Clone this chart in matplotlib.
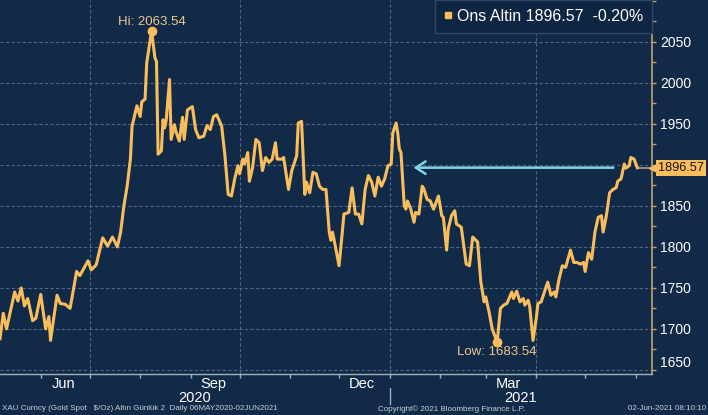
import matplotlib.pyplot as plt
import matplotlib.dates as mdates
import matplotlib.transforms as mtransforms
from matplotlib.lines import Line2D
from matplotlib.ticker import MultipleLocator
import numpy as np
import pandas as pd

# XAU spot (ons altin), daily.
# day = calendar days since 2020-05-07
start = pd.Timestamp('2020-05-07')
day = [0, 2, 4, 9, 11, 13, 15, 17, 20, 22, 25, 28, 30, 31, 35, 37, 40, 43, 47, 49,
       54, 56, 59, 63, 66, 69, 72, 74, 76, 78, 80, 81, 84, 86, 87, 89, 90, 93, 95, 96,
       97, 99, 100, 101, 102, 104, 105, 107, 108, 110, 112, 113, 115, 118, 120, 122, 125, 127, 129, 131,
       133, 136, 138, 140, 142, 144, 146, 147, 149, 150, 152, 153, 155, 157, 159, 161, 163, 165, 167, 169,
       170, 173, 174, 177, 179, 182, 183, 185, 187, 188, 190, 192, 194, 196, 198, 200, 202, 203, 204, 206,
       208, 210, 211, 214, 216, 218, 220, 222, 224, 226, 228, 230, 232, 234, 236, 238, 240, 241, 243, 244,
       245, 246, 248, 249, 250, 252, 254, 255, 257, 259, 260, 262, 264, 266, 269, 271, 272, 274, 275, 277,
       279, 280, 283, 286, 288, 290, 293, 295, 297, 298, 300, 302, 305, 307, 309, 311, 314, 315, 317, 319,
       321, 322, 324, 325, 327, 329, 330, 332, 334, 336, 338, 340, 341, 343, 345, 347, 350, 352, 354, 356,
       358, 359, 361, 363, 365, 367, 369, 370, 372, 374, 376, 378, 379, 381, 383, 384, 386, 387, 389, 391]
price = [1688, 1719, 1700, 1745, 1734, 1750, 1728, 1737, 1710, 1713, 1742, 1700, 1715, 1686, 1741, 1731, 1730, 1725, 1770, 1765,
         1783, 1772, 1778, 1811, 1801, 1812, 1800, 1818, 1850, 1874, 1907, 1947, 1972, 1959, 1977, 1980, 2024, 2063.54, 2031, 2026,
         1913, 1917, 1955, 1945, 1955, 2004, 1931, 1949, 1940, 1929, 1958, 1931, 1967, 1971, 1943, 1933, 1935, 1948, 1943, 1959,
         1961, 1947, 1911, 1864, 1862, 1883, 1899, 1889, 1907, 1901, 1915, 1880, 1897, 1931, 1927, 1893, 1909, 1903, 1907, 1927,
         1907, 1907, 1909, 1870, 1893, 1911, 1951, 1953, 1864, 1879, 1866, 1891, 1889, 1874, 1870, 1870, 1818, 1808, 1818, 1798,
         1777, 1818, 1840, 1842, 1872, 1840, 1840, 1828, 1870, 1887, 1879, 1862, 1885, 1874, 1883, 1899, 1901, 1939, 1951, 1939,
         1919, 1915, 1850, 1846, 1856, 1846, 1830, 1842, 1840, 1874, 1871, 1858, 1856, 1846, 1862, 1838, 1836, 1796, 1822, 1838,
         1844, 1828, 1824, 1779, 1777, 1812, 1806, 1757, 1733, 1739, 1721, 1700, 1683.54, 1725, 1729, 1731, 1745, 1737, 1746, 1733,
         1737, 1729, 1735, 1727, 1686, 1713, 1731, 1733, 1745, 1757, 1741, 1745, 1739, 1761, 1777, 1775, 1796, 1781, 1781, 1779,
         1781, 1770, 1793, 1785, 1818, 1836, 1838, 1818, 1838, 1866, 1870, 1872, 1880, 1883, 1901, 1896, 1899, 1909, 1907, 1896.57]
last_change_pct = -0.20

y_ticks = [1650, 1700, 1750, 1800, 1850, 1900, 1950, 2000, 2050]
quarter_starts = ['2020-07-01', '2020-10-01', '2021-01-01', '2021-04-01']
year_split = pd.Timestamp('2021-01-01')
x_end = pd.Timestamp('2021-06-11')
arrow_from = pd.Timestamp('2021-05-20')
arrow_to = pd.Timestamp('2021-01-14')

BG = '#112a48'
GOLD = '#f9bd5b'
TAN = '#bfa36c'
GRID = '#4e6886'
AXIS = '#a3b2c2'
CYAN = '#7fd6ea'
NOTE = '#eec78d'

plt.rcParams['font.family'] = ['Liberation Sans', 'DejaVu Sans']

dates = start + pd.to_timedelta(day, unit='D')
price = np.array(price)
last = price[-1]

fig = plt.figure(figsize=(7.08, 4.15), dpi=100, facecolor=BG)
ax = fig.add_axes([0, 41 / 415, 652 / 708, 374 / 415], facecolor=BG)

ax.plot(dates, price, color=GOLD, lw=2.2, solid_joinstyle='round', zorder=4)
ax.set_xlim(start, x_end)
ax.set_ylim(1645, 2101)

# grid: dashed, horizontal every 50, vertical at quarter starts
ax.grid(axis='y', which='major', color=GRID, ls=(0, (3, 2)), lw=0.8)
for q in quarter_starts:
    ax.axvline(pd.Timestamp(q), color=GRID, ls=(0, (3, 2)), lw=0.8, zorder=1)

# right price axis; the tick under the last-price tag stays unlabeled
ax.yaxis.tick_right()
ax.set_yticks(y_ticks)
ax.set_yticklabels(['' if abs(v - last) < 15 else str(v) for v in y_ticks])
ax.yaxis.set_minor_locator(MultipleLocator(25))
ax.tick_params(axis='y', which='both', colors=TAN, labelcolor='white',
               labelsize=10, length=3, width=1, pad=3)
ax.get_yticklabels()[0].set_va('bottom')

# month labels mid-month, small ticks on month starts
ax.xaxis.set_major_locator(mdates.MonthLocator(bymonth=[3, 6, 9, 12], bymonthday=15))
ax.xaxis.set_major_formatter(mdates.DateFormatter('%b'))
ax.xaxis.set_minor_locator(mdates.MonthLocator())
ax.tick_params(axis='x', which='major', length=0, labelcolor='white', labelsize=10.5, pad=2)
ax.tick_params(axis='x', which='minor', length=3, color=AXIS, width=1)

for side in ['left', 'top']:
    ax.spines[side].set_visible(False)
ax.spines['right'].set_color(TAN)
ax.spines['right'].set_linewidth(1.2)
ax.spines['bottom'].set_color(AXIS)
ax.spines['bottom'].set_linewidth(1)

# year row
trans = mtransforms.blended_transform_factory(ax.transData, ax.transAxes)
ax.text(start + (year_split - start) / 2, -0.065, '2020', transform=trans,
        ha='center', va='center', color='white', fontsize=10.5)
ax.text(year_split + (x_end - year_split) / 2, -0.065, '2021', transform=trans,
        ha='center', va='center', color='white', fontsize=10.5)
ax.plot([year_split, year_split], [-0.037, -0.08], transform=trans,
        color=AXIS, lw=1, clip_on=False)

# high / low markers
i_hi = int(np.argmax(price))
i_lo = int(np.argmin(price))
ax.plot(dates[i_hi], price[i_hi], 'o', ms=6, color=GOLD, zorder=5)
ax.plot(dates[i_lo], price[i_lo], 'o', ms=6, color=GOLD, zorder=5)
ax.annotate(f'Hi: {price[i_hi]:.2f}', xy=(dates[i_hi], price[i_hi]), xytext=(0, 2),
            textcoords='offset points', ha='center', va='bottom', color=NOTE, fontsize=9.5)
ax.annotate(f'Low: {price[i_lo]:.2f}', xy=(dates[i_lo], price[i_lo]), xytext=(0, -2.5),
            textcoords='offset points', ha='center', va='top', color=NOTE, fontsize=9.5)

# cyan arrow at last price level
ax.annotate('', xy=(arrow_to, last), xytext=(arrow_from, last),
            arrowprops=dict(arrowstyle='->,head_length=0.7,head_width=0.45', color=CYAN, lw=1.8))

# last price line and tag on the axis
ax.plot([dates[-1], x_end], [last, last], color='#8c8a7e', lw=1.5, zorder=3)
ytrans = mtransforms.blended_transform_factory(ax.transAxes, ax.transData)
ax.plot([1.005], [last], marker='<', ms=8, color=GOLD, transform=ytrans, clip_on=False, zorder=6)
ax.text(1.0095, last, f'{last:.2f}', transform=ytrans, ha='left', va='center',
        fontsize=9.2, color='#14171c', zorder=7,
        bbox=dict(boxstyle='square,pad=0.15', fc=GOLD, ec='none'))

# legend box top right
handle = Line2D([], [], marker='s', ls='', color=GOLD, ms=5)
leg = ax.legend([handle], [f'Ons Altin {last:.2f}  {last_change_pct:.2f}%'], loc='upper right',
                borderaxespad=0, fontsize=11.5, handlelength=0.5, handletextpad=0.3,
                borderpad=0.55, fancybox=False, framealpha=1, facecolor='#0f2642',
                edgecolor='#30496a', labelcolor='white')
leg.get_frame().set_linewidth(1)

# footer
fig.text(0.003, 0.015, 'XAU Curncy (Gold Spot   $/Oz) Altın Günlük 2  Daily 06MAY2020-02JUN2021',
         fontsize=5.8, color='#c9d1da', va='center')
fig.text(378 / 708, 0.015, 'Copyright© 2021 Bloomberg Finance L.P.',
         fontsize=5.8, color='#c9d1da', va='center')
fig.text(0.997, 0.015, '02-Jun-2021 08:10:10', fontsize=5.8, color='#c9d1da',
         va='center', ha='right')

plt.savefig('out.png', dpi=100, facecolor=BG)
plt.close()
